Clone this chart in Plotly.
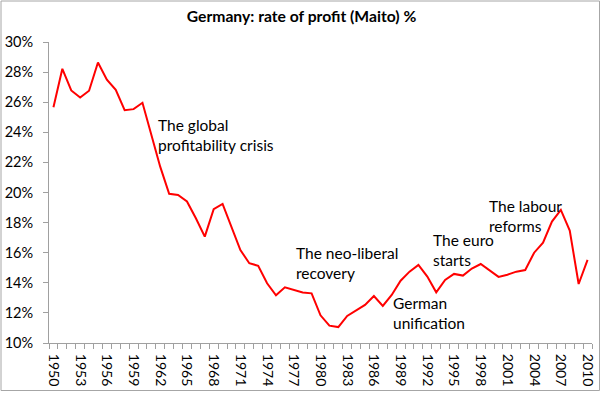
import plotly.graph_objects as go

years = list(range(1950, 2011))
rate = [25.67, 28.22, 26.78, 26.31, 26.76, 28.64, 27.49, 26.82, 25.47, 25.54,
        25.96, 23.85, 21.7, 19.91, 19.84, 19.4, 18.29, 17.07, 18.89, 19.24,
        17.73, 16.18, 15.3, 15.13, 13.97, 13.17, 13.7, 13.52, 13.35, 13.3,
        11.84, 11.15, 11.06, 11.8, 12.19, 12.53, 13.12, 12.46, 13.19, 14.14,
        14.74, 15.19, 14.41, 13.37, 14.19, 14.59, 14.48, 14.95, 15.25, 14.85,
        14.39, 14.54, 14.74, 14.85, 16.0, 16.67, 18.07, 18.84, 17.47, 13.92,
        15.52]
tick_years = list(range(1950, 2011, 3))
ytick_vals = list(range(10, 31, 2))

notes = [
    ("The global<br>profitability crisis", 1961.52, 23.85),
    ("The neo-liberal<br>recovery", 1977.03, 15.3),
    ("German<br>unification", 1987.93, 12.0),
    ("The euro<br>starts", 1992.42, 16.2),
    ("The labour<br>reforms", 1998.71, 18.47),
]

FONT = "Lato"
W, H = 602, 393
ml, mr, mt, mb = 49, 10, 42, 50
pw, ph = W - ml - mr, H - mt - mb

fig = go.Figure()
fig.add_trace(go.Scatter(x=years, y=rate, mode="lines",
                         line=dict(color="#ff0000", width=2), hoverinfo="skip"))

for text, x, y in notes:
    fig.add_annotation(x=x, y=y, text=text, showarrow=False, xanchor="left",
                       yanchor="middle", align="left",
                       font=dict(family=FONT, size=15.5, color="black"))

# outer frame (pixel positions converted to paper coordinates)
bx0, bx1, by0, by1 = 1, 599.5, 1, 390.5
fig.add_shape(type="rect", xref="paper", yref="paper",
              x0=(bx0 - ml) / pw, x1=(bx1 - ml) / pw,
              y0=(H - mb - by1) / ph, y1=(H - mb - by0) / ph,
              line=dict(color="#a6a6a6", width=1))

fig.update_layout(
    width=W, height=H,
    margin=dict(l=ml, r=mr, t=mt, b=mb, autoexpand=False),
    paper_bgcolor="white", plot_bgcolor="white",
    showlegend=False,
    title=dict(text="<b>Germany: rate of profit (Maito) %</b>", x=301.5 / W, xanchor="center",
               y=1 - 17 / H, yanchor="middle", xref="container", yref="container",
               font=dict(family=FONT, size=15.7, color="black")),
    xaxis=dict(range=[1949.5, 2010.5], tickmode="array", tickvals=tick_years,
               ticktext=[str(y) for y in tick_years], tickangle=90, ticks="",
               automargin=False, ticklabelstandoff=7,
               showline=True, linecolor="#a0a0a0", linewidth=1, showgrid=False,
               zeroline=False, tickfont=dict(family=FONT, size=14, color="black"),
               minor=dict(tickmode="linear", tick0=1949.5, dtick=1, ticks="outside",
                          ticklen=5, tickcolor="#a0a0a0", showgrid=False)),
    yaxis=dict(range=[10, 30], tickmode="array", tickvals=ytick_vals,
               ticktext=[f"{v}%" for v in ytick_vals], ticks="outside", ticklen=5,
               automargin=False, ticklabelstandoff=7,
               tickcolor="#a0a0a0", showline=True, linecolor="#a0a0a0", linewidth=1,
               showgrid=False, zeroline=False,
               tickfont=dict(family=FONT, size=14.5, color="black")),
)

fig.write_html("out.html", config={"displayModeBar": False},
               post_script="document.body.style.margin='0';")
